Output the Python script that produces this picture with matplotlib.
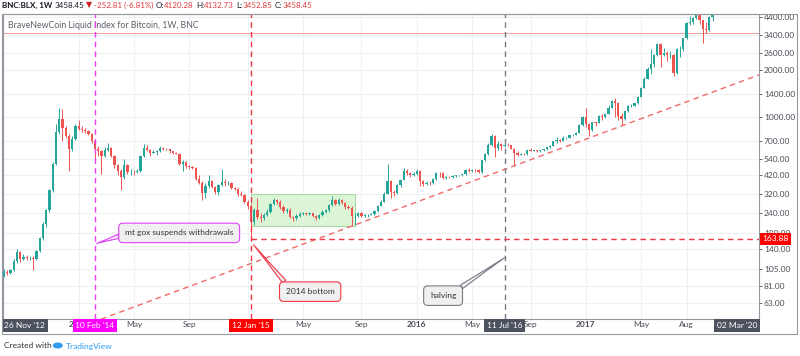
import numpy as np
import pandas as pd
import matplotlib
matplotlib.use("Agg")
import matplotlib.pyplot as plt
from matplotlib.patches import Rectangle, Ellipse

plt.rcParams['font.family'] = ['Lato', 'DejaVu Sans']

# weekly candles of BNC:BLX, first bar = week of 29 Jul 2013
first_open = 94
closes = [100, 99, 103, 118, 134, 122, 125, 123, 124, 122,
          137, 165, 204, 250, 340, 500, 800, 970, 850, 750,
          620, 720, 870, 840, 820, 810, 780, 700, 620, 600,
          560, 615, 630, 560, 490, 450, 410, 490, 440, 445,
          440, 450, 560, 630, 610, 590, 595, 600, 630, 625,
          620, 600, 590, 580, 500, 515, 480, 478, 470, 400,
          375, 325, 360, 385, 355, 330, 365, 380, 375, 378,
          350, 345, 320, 316, 285, 265, 210, 253, 225, 222,
          235, 245, 275, 290, 282, 262, 248, 253, 225, 222,
          230, 237, 240, 237, 240, 230, 223, 233, 244, 250,
          270, 292, 275, 290, 280, 263, 260, 230, 230, 240,
          231, 232, 235, 238, 246, 268, 285, 320, 385, 330,
          325, 362, 395, 450, 435, 420, 430, 450, 385, 370,
          378, 375, 400, 438, 433, 405, 413, 410, 417, 420,
          420, 428, 458, 450, 458, 457, 440, 525, 575, 665,
          760, 630, 675, 650, 665, 660, 625, 590, 570, 580,
          575, 610, 605, 610, 600, 612, 618, 640, 655, 700,
          710, 705, 730, 735, 765, 770, 790, 890, 1000, 905,
          820, 925, 920, 1020, 1000, 1050, 1150, 1270, 1230, 1020,
          965, 1090, 1180, 1180, 1230, 1350, 1550, 1770, 2050, 2200,
          2520, 2950, 2500, 2600, 2500, 2500, 1915, 2750, 2750, 3230,
          4060, 4080, 4350, 4600, 4220, 3680, 3650, 4400, 4600, 5700]
highs = [104, 103, 105, 122, 140, 136, 130, 128, 127, 127,
         139, 168, 210, 255, 345, 510, 900, 1150, 1130, 880,
         780, 760, 900, 960, 870, 845, 830, 790, 710, 650,
         610, 640, 680, 640, 570, 500, 460, 540, 500, 460,
         455, 460, 570, 670, 660, 620, 610, 610, 650, 640,
         630, 625, 600, 595, 585, 525, 520, 490, 485, 475,
         420, 385, 375, 420, 390, 360, 370, 460, 400, 385,
         382, 355, 350, 335, 320, 290, 275, 260, 300, 240,
         240, 255, 280, 300, 298, 290, 270, 260, 258, 230,
         238, 244, 245, 245, 244, 242, 232, 236, 250, 255,
         275, 310, 296, 300, 295, 285, 270, 265, 240, 245,
         244, 238, 238, 242, 250, 272, 290, 330, 500, 390,
         340, 370, 400, 470, 465, 445, 440, 460, 455, 395,
         385, 385, 405, 445, 442, 440, 418, 418, 420, 425,
         425, 432, 462, 468, 465, 462, 460, 530, 590, 680,
         780, 765, 700, 680, 680, 680, 665, 630, 600, 590,
         585, 615, 630, 615, 612, 615, 622, 645, 660, 705,
         740, 725, 750, 745, 770, 780, 795, 900, 1010, 1150,
         910, 930, 930, 1030, 1050, 1060, 1190, 1280, 1320, 1250,
         1060, 1100, 1200, 1220, 1240, 1360, 1560, 1820, 2100, 2760,
         2540, 2980, 2980, 2770, 2650, 2650, 2550, 2800, 2850, 3250,
         4100, 4480, 4400, 4980, 4700, 4250, 4100, 4450, 4650, 5850]
lows = [93, 96, 97, 101, 115, 116, 119, 120, 119, 103,
        119, 135, 160, 195, 245, 330, 490, 780, 700, 730,
        450, 600, 710, 820, 800, 790, 770, 680, 540, 560,
        430, 550, 600, 550, 470, 420, 340, 400, 430, 420,
        425, 435, 445, 555, 600, 560, 585, 570, 595, 615,
        610, 590, 580, 575, 490, 450, 470, 465, 460, 395,
        370, 290, 300, 350, 350, 320, 315, 360, 360, 365,
        345, 340, 310, 310, 280, 255, 163.88, 200, 220, 210,
        218, 230, 240, 270, 275, 255, 240, 240, 222, 215,
        218, 225, 232, 232, 234, 225, 218, 220, 230, 240,
        245, 268, 270, 272, 275, 255, 255, 198, 200, 225,
        228, 225, 228, 232, 235, 244, 265, 282, 320, 300,
        310, 320, 355, 390, 425, 410, 415, 425, 360, 360,
        365, 365, 370, 395, 410, 400, 400, 405, 405, 410,
        415, 418, 425, 440, 442, 445, 435, 435, 520, 570,
        655, 550, 615, 610, 640, 650, 620, 480, 560, 565,
        570, 570, 600, 600, 595, 595, 608, 615, 630, 650,
        680, 690, 700, 725, 730, 755, 765, 785, 880, 860,
        750, 815, 880, 915, 960, 990, 1040, 1140, 1000, 960,
        890, 950, 1080, 1160, 1170, 1220, 1340, 1540, 1750, 1900,
        2100, 2470, 2100, 2480, 2300, 2400, 1850, 1900, 2450, 2650,
        3200, 3900, 3980, 4300, 3970, 2980, 3500, 3600, 4150, 4600]

opens = [first_open] + closes[:-1]
dates = pd.date_range("2013-07-29", periods=len(closes), freq="7D")

price_ticks = [4400, 3400, 2600, 2000, 1400, 1000, 700, 540, 420, 320, 240, 180, 140, 105, 81, 63]
time_ticks = ["2014-01-06", "2014-05-05", "2014-09-01", "2015-01-05", "2015-05-04", "2015-09-07",
              "2016-01-04", "2016-05-02", "2016-09-05", "2017-01-02", "2017-05-01", "2017-08-07"]
# 2015 sits under the "12 Jan '15" marker, so it stays blank
time_labels = ["2014", "May", "Sep", "", "May", "Sep", "2016", "May", "Sep", "2017", "May", "Aug"]

mtgox_date = "2014-02-10"
bottom_date = "2015-01-12"
halving_date = "2016-07-11"
bottom_price = 163.88
last_price = 3458.45
range_start, range_end = "2015-01-12", "2015-08-24"
range_low, range_high = 198, 318
trend_dates = ["2015-08-17", "2016-08-01"]
trend_prices = [198, 485]

UP, DOWN = "#26a69a", "#ef5350"
TXT = "#4a4d57"


def idx(d):
    return dates.get_loc(pd.Timestamp(d))


fig = plt.figure(figsize=(8, 3.56), dpi=100)
ax = fig.add_axes([3 / 800, 1 - 319 / 356, 756 / 800, 305 / 356])
ax.set_yscale("log")
ax.set_ylim(49.85, 4617)
ax.set_xlim(-0.3, 232.3)

# candles
x = np.arange(len(closes))
o = np.array(opens, float)
c = np.array(closes, float)
cols = [UP if cc >= oo else DOWN for oo, cc in zip(o, c)]
ax.vlines(x, lows, highs, colors=cols, lw=0.7, zorder=3)
ax.bar(x, np.abs(c - o), bottom=np.minimum(o, c), width=0.72, color=cols, zorder=3)

# grid and axes
ax.set_yticks(price_ticks)
ax.set_yticklabels(["%.2f" % p for p in price_ticks])
ax.yaxis.set_minor_locator(matplotlib.ticker.NullLocator())
ax.yaxis.tick_right()
ax.set_xticks([idx(d) for d in time_ticks])
ax.set_xticklabels(time_labels)
for lab in ax.get_xticklabels():
    if lab.get_text().isdigit():
        lab.set_fontweight("bold")
ax.tick_params(axis="both", labelsize=6, colors=TXT, length=2, width=0.6)
ax.tick_params(axis="x", pad=1.5, length=0)
ax.tick_params(axis="y", pad=1.5)
ax.grid(True, color="#eef0f4", lw=0.8, zorder=0)
ax.set_axisbelow(True)
for s in ax.spines.values():
    s.set_color("#9598a1")
    s.set_linewidth(0.8)

# outer frame incl. price scale
fig.add_artist(Rectangle((2 / 800, 1 - 334 / 356), 795 / 800, 320 / 356, transform=fig.transFigure,
                         fill=False, ec="#9598a1", lw=0.8))

# consolidation range
i0, i1 = idx(range_start), idx(range_end)
ax.add_patch(Rectangle((i0, range_low), i1 - i0, range_high - range_low,
                       fc="#dcf5d6", ec="#a9d9a3", lw=0.8, zorder=2))

# trend ray
t0, t1 = idx(trend_dates[0]), idx(trend_dates[1])
slope = (np.log10(trend_prices[1]) - np.log10(trend_prices[0])) / (t1 - t0)
tx = np.array([-1, 235])
ax.plot(tx, 10 ** (np.log10(trend_prices[0]) + (tx - t0) * slope), color="#f06a6a",
        lw=1, ls=(0, (4, 3)), zorder=4)

# event lines
ax.axvline(idx(mtgox_date), color="#f03cf0", lw=1, ls=(0, (4, 3)), zorder=4)
ax.axvline(idx(bottom_date), color="#f23645", lw=1, ls=(0, (4, 3)), zorder=4)
ax.axvline(idx(halving_date), color="#787b86", lw=1, ls=(0, (4, 3)), zorder=4)
ax.plot([idx(bottom_date), 235], [bottom_price, bottom_price], color="#f23645",
        lw=1, ls=(0, (4, 3)), zorder=4)
ax.axhline(last_price, color="#f28b8b", lw=0.6, zorder=2.5)

# callouts
notes = [("mt gox suspends withdrawals", (idx(mtgox_date) + 0.5, 153), (53.9, 179), "#e040fb", (0.0, 0.3)),
         ("2014 bottom", (idx(bottom_date) + 0.8, 150), (94.2, 74.8), "#f23645", (0.08, 1.0)),
         ("halving", (idx(halving_date) + 0.3, 125), (135.1, 70.5), "#787b86", (0.9, 1.0))]
for txt, xy, xyt, ec, rp in notes:
    ax.annotate(txt, xy=xy, xytext=xyt, ha="center", va="center", fontsize=6, color="#333333",
                bbox=dict(boxstyle="round,pad=0.75,rounding_size=0.5", fc="#f0f0f0", ec=ec, lw=0.8),
                arrowprops=dict(arrowstyle="wedge,tail_width=0.5,shrink_factor=0.4", fc="#f0f0f0",
                                ec=ec, lw=0.8, relpos=rp, shrinkA=0, shrinkB=0),
                zorder=6)

# axis label boxes
xt = ax.get_xaxis_transform()
for d, s, fc in [(mtgox_date, "10 Feb '14", "#ff00ff"), (bottom_date, "12 Jan '15", "#ff0000"),
                 (halving_date, "11 Jul '16", "#4c525e")]:
    ax.text(idx(d), -0.022, s, transform=xt, ha="center", va="center", fontsize=6, color="white",
            bbox=dict(boxstyle="square,pad=0.35", fc=fc, ec="none"), clip_on=False, zorder=10)
for fx, s in [(0.029, "26 Nov '12"), (0.971, "02 Mar '20")]:
    ax.text(fx, -0.022, s, transform=ax.transAxes, ha="center", va="center", fontsize=6, color="white",
            bbox=dict(boxstyle="square,pad=0.35", fc="#4c525e", ec="none"), clip_on=False, zorder=10)
ax.text(1.004, bottom_price, "%.2f" % bottom_price, transform=ax.get_yaxis_transform(), ha="left",
        va="center", fontsize=6, color="white",
        bbox=dict(boxstyle="square,pad=0.3", fc="#ff0000", ec="none"), clip_on=False, zorder=10)

ax.text(5 / 756, 1 - 12 / 305, "BraveNewCoin Liquid Index for Bitcoin, 1W, BNC", transform=ax.transAxes,
        fontsize=6.3, color="#5d606b", va="center", ha="left")

renderer = fig.canvas.get_renderer()


def row(xp, yp, parts, size=6.3):
    for s, col, w, gap in parts:
        t = fig.text(xp / 800, 1 - yp / 356, s, fontsize=size, color=col, fontweight=w, va="center")
        xp += t.get_window_extent(renderer).width + gap
    return xp


R = "#e0393e"
D = "#131722"
row(2, 5, [("BNC:BLX, 1W", D, "bold", 2.5), ("3458.45", D, "normal", 1.5), ("▼", "#cc2222", "normal", 1.5),
           ("-252.81 (-6.81%)", R, "normal", 2.5), ("O:", D, "normal", 0), ("4120.28", R, "normal", 2.5),
           ("H:", D, "normal", 0), ("4132.73", R, "normal", 2.5), ("L:", D, "normal", 0),
           ("3452.85", R, "normal", 2.5), ("C:", D, "normal", 0), ("3458.45", R, "normal", 0)], size=5.8)

end = row(4, 346, [("Created with", "#333333", "normal", 14)], size=6)
fig.add_artist(Ellipse(((end - 8) / 800, 1 - 345.5 / 356), 10 / 800, 6 / 356, transform=fig.transFigure,
                       fc="#2e9bf0", ec="none"))
row(end, 346, [("TradingView", "#2e9bf0", "normal", 0)], size=6)

fig.savefig("out.png", dpi=100)
